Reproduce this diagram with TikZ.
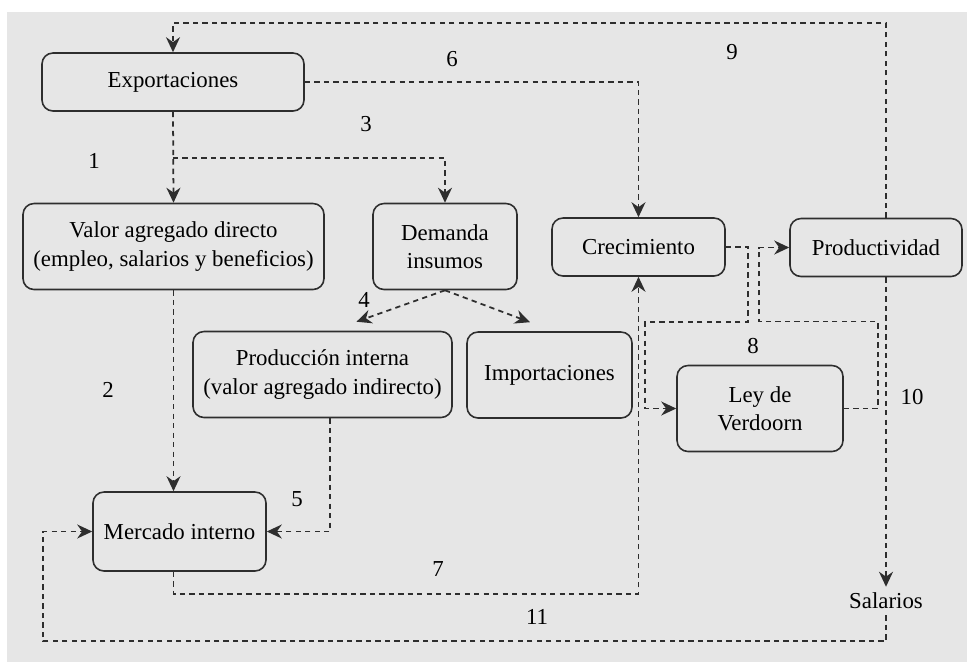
\documentclass[tikz,border=0pt]{standalone}
\usepackage{fontspec}
\setmainfont{Liberation Serif}
\usetikzlibrary{arrows.meta}
\definecolor{fondo}{HTML}{E6E6E6}
\definecolor{linea}{HTML}{2E2E2E}
\tikzset{
    module/.style={%
        draw=linea, line width=0.9pt, rounded corners=0.22cm,
        minimum width=#1,
        minimum height=1.16cm,
        align=center,
        font=\rmfamily\fontsize{13}{16}\selectfont
        },
    module/.default=3cm,
    tall/.style={minimum height=1.72cm},
    flujo/.style={draw=linea, line width=1pt, dash pattern=on 3pt off 2.4pt},
    num/.style={font=\rmfamily\fontsize{13}{16}\selectfont},
    >={Stealth[length=3mm,width=2.8mm]}
}

\begin{document}
\begin{tikzpicture}

\useasboundingbox (0,0) rectangle (19.34,-13.24);
\fill[fondo] (0.14,-0.24) rectangle (19.34,-13.24);

\node[module=5.24cm] (Expo) at (3.46,-1.64) {Exportaciones};

\node[module=6.02cm, tall] (Valor) at (3.47,-4.93) {Valor agregado directo\\(empleo, salarios y beneficios)};

\node[module=2.88cm, tall] (Demanda) at (8.90,-4.93) {Demanda\\insumos};

\node[module=3.46cm] (Crec) at (12.77,-4.94) {Crecimiento};

\node[module=3.44cm] (Prod) at (17.52,-4.95) {Productividad};

\node[module=5.18cm, tall] (ProdInt) at (6.45,-7.49) {Producción interna\\(valor agregado indirecto)};

\node[module=3.30cm, tall] (Imp) at (10.99,-7.50) {Importaciones};

\node[module=3.32cm, tall] (Ley) at (15.20,-8.17) {Ley de\\Verdoorn};

\node[module=3.46cm, minimum height=1.58cm] (Merc) at (3.59,-10.63) {Mercado interno};

\node[num] (Sal) at (17.72,-12.02) {Salarios};

\node[num] (n1) at (1.88,-3.22) {1};
\node[num] (n2) at (2.16,-7.80) {2};
\node[num] (n3) at (7.32,-2.48) {3};
\node[num] (n4) at (7.28,-6.00) {4};
\node[num] (n5) at (5.94,-9.98) {5};
\node[num] (n6) at (9.04,-1.18) {6};
\node[num] (n7) at (8.76,-11.38) {7};
\node[num] (n8) at (15.06,-6.92) {8};
\node[num] (n9) at (14.64,-1.04) {9};
\node[num] (n10) at (18.24,-7.94) {10};
\node[num] (n11) at (10.74,-12.34) {11};

\draw[flujo, ->] (Expo.south) -- (Valor.north);

\coordinate (split) at ([yshift=-0.92cm]Expo.south);
\draw[flujo, ->] (split) -| (Demanda.north);

\draw[flujo, ->] (Valor.south) -- (Valor.south |- Merc.north);

\draw[flujo, ->] (Demanda.south) -- ([shift={(0.68cm,0.18cm)}]ProdInt.north);
\draw[flujo, ->] (Demanda.south) -- ([shift={(-0.39cm,0.18cm)}]Imp.north);

\draw[flujo, ->] ([xshift=0.15cm]ProdInt.south) |- (Merc.east);

\draw[flujo, ->] (Expo.east) -| (Crec.north);

\draw[flujo, ->] ([xshift=-0.12cm]Merc.south) -- ++(0,-0.44) -| (Crec.south);

\draw[flujo, ->] (Crec.east) -- ++(0.44,0) -- ++(0,-1.5) -| ([xshift=-0.62cm]Ley.west) -- (Ley.west);
\draw[flujo, ->] (Ley.east) -- ++(0.68,0) -- ++(0,1.74) -| ([xshift=-0.6cm]Prod.west) -- (Prod.west);

\coordinate (top) at ([xshift=0.2cm]Prod.north |- 0,-0.46);
\draw[flujo, ->] ([xshift=0.2cm]Prod.north) -- (top) -| (Expo.north);

\draw[flujo, ->] ([xshift=0.2cm]Prod.south) -- (Sal.north);

\draw[flujo, ->] (Sal.south) -- ++(0,-0.52) -| ([xshift=-0.98cm]Merc.west) -- (Merc.west);

\end{tikzpicture}
\end{document}
